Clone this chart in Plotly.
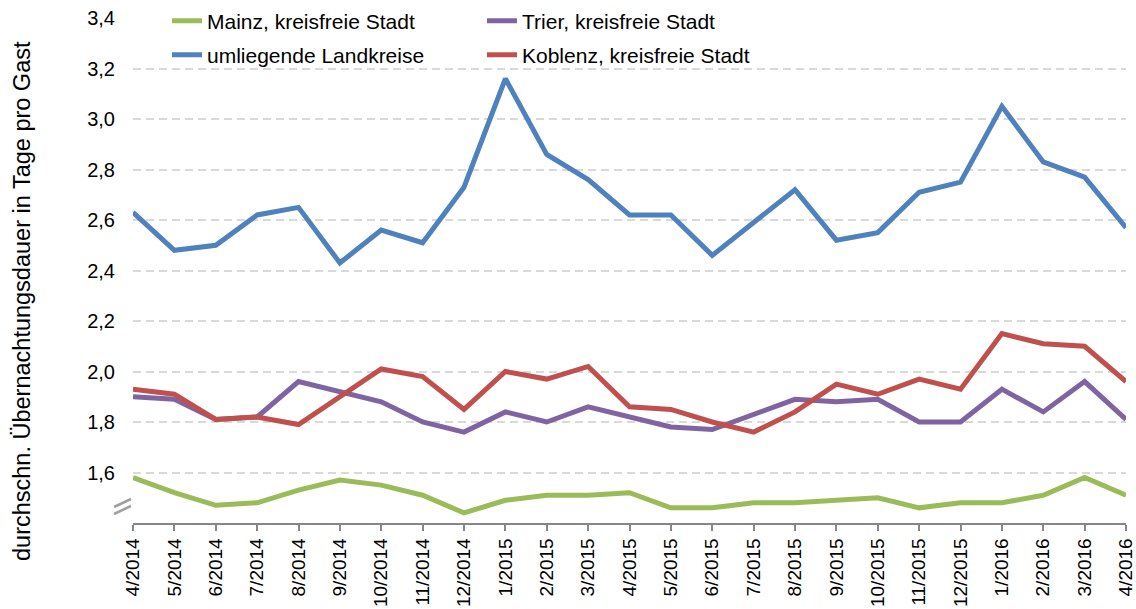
import plotly.graph_objects as go

months = ["4/2014", "5/2014", "6/2014", "7/2014", "8/2014", "9/2014", "10/2014", "11/2014",
          "12/2014", "1/2015", "2/2015", "3/2015", "4/2015", "5/2015", "6/2015", "7/2015",
          "8/2015", "9/2015", "10/2015", "11/2015", "12/2015", "1/2016", "2/2016", "3/2016",
          "4/2016"]

mainz = [1.58, 1.52, 1.47, 1.48, 1.53, 1.57, 1.55, 1.51, 1.44, 1.49, 1.51, 1.51, 1.52,
         1.46, 1.46, 1.48, 1.48, 1.49, 1.50, 1.46, 1.48, 1.48, 1.51, 1.58, 1.51]
trier = [1.90, 1.89, 1.81, 1.82, 1.96, 1.92, 1.88, 1.80, 1.76, 1.84, 1.80, 1.86, 1.82,
         1.78, 1.77, 1.83, 1.89, 1.88, 1.89, 1.80, 1.80, 1.93, 1.84, 1.96, 1.81]
landkreise = [2.63, 2.48, 2.50, 2.62, 2.65, 2.43, 2.56, 2.51, 2.73, 3.16, 2.86, 2.76, 2.62,
              2.62, 2.46, 2.59, 2.72, 2.52, 2.55, 2.71, 2.75, 3.05, 2.83, 2.77, 2.57]
koblenz = [1.93, 1.91, 1.81, 1.82, 1.79, 1.90, 2.01, 1.98, 1.85, 2.00, 1.97, 2.02, 1.86,
           1.85, 1.80, 1.76, 1.84, 1.95, 1.91, 1.97, 1.93, 2.15, 2.11, 2.10, 1.96]

y_ticks = [1.6, 1.8, 2.0, 2.2, 2.4, 2.6, 2.8, 3.0, 3.2, 3.4]

FONT = "Liberation Sans, Arial, sans-serif"
W, H = 1136, 609
ML, MR, MT, MB = 133, 10, 18, 86
PW, PH = W - ML - MR, H - MT - MB


def px(xp):
    return (xp - ML) / PW


def py(yp):
    return (H - MB - yp) / PH


fig = go.Figure()
series = [
    ("Mainz, kreisfreie Stadt", mainz, "#9BBB59", "legend"),
    ("Trier, kreisfreie Stadt", trier, "#8064A2", "legend"),
    ("umliegende Landkreise", landkreise, "#4F81BD", "legend2"),
    ("Koblenz, kreisfreie Stadt", koblenz, "#C0504D", "legend2"),
]
for name, vals, col, lg in series:
    fig.add_trace(go.Scatter(x=months, y=vals, mode="lines", name=name,
                             line=dict(color=col, width=5), legend=lg))

legend_common = dict(orientation="h", xanchor="left", yanchor="middle",
                     font=dict(family=FONT, size=21, color="#000000"),
                     bgcolor="rgba(0,0,0,0)", entrywidth=270, entrywidthmode="pixels",
                     itemwidth=30, tracegroupgap=0)

fig.update_layout(
    width=W, height=H,
    margin=dict(l=ML, r=MR, t=MT, b=MB, autoexpand=False),
    plot_bgcolor="white", paper_bgcolor="white",
    separators=",.",
    font=dict(family=FONT, size=20, color="#000000"),
    legend=dict(x=px(167), y=py(21), **legend_common),
    legend2=dict(x=px(167), y=py(55), **legend_common),
    xaxis=dict(type="category", range=[0, 24], showgrid=False,
               showline=True, linecolor="#868686", linewidth=1.5,
               ticks="outside", ticklen=6, tickcolor="#868686", tickwidth=1.5,
               tickangle=-90, tickfont=dict(family=FONT, size=19, color="#000000")),
    yaxis=dict(range=[1.4, 3.4], tickvals=y_ticks, tickformat=".1f",
               showgrid=True, gridcolor="#D9D9D9", gridwidth=1.5, griddash="8px,5px",
               showline=False, zeroline=False, ticks="", ticklabelstandoff=17,
               tickfont=dict(family=FONT, size=20, color="#000000")),
    annotations=[dict(text="durchschn. Übernachtungsdauer in Tage pro Gast",
                      xref="paper", yref="paper", x=px(7), y=py(301),
                      textangle=-90, showarrow=False,
                      font=dict(family=FONT, size=23.5, color="#000000"))],
    shapes=[
        dict(type="line", xref="paper", yref="paper", x0=px(114), y0=py(507),
             x1=px(131), y1=py(499), line=dict(color="#A0A0A0", width=2.5)),
        dict(type="line", xref="paper", yref="paper", x0=px(114), y0=py(514),
             x1=px(131), y1=py(506), line=dict(color="#A0A0A0", width=2.5)),
    ],
)

fig.write_html("out.html", config={"displayModeBar": False},
               post_script="document.body.style.margin='0';document.body.style.overflow='hidden';")
